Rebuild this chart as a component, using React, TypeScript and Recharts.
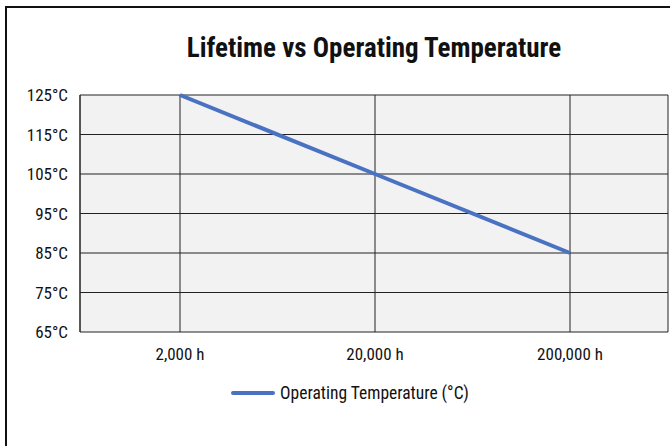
import React from 'react';
import {
  LineChart,
  Line,
  XAxis,
  YAxis,
  CartesianGrid,
  Legend,
} from 'recharts';

const hours = ['2,000 h', '20,000 h', '200,000 h'];
const tempValues = [125, 105, 85];
const tempTicks = [65, 75, 85, 95, 105, 115, 125];

const data = hours.map((h, i) => ({ hours: h, temp: tempValues[i] }));

const FONT = '"Roboto Condensed", "Liberation Sans Narrow", "DejaVu Sans Condensed", sans-serif';
const LINE_COLOR = '#4a72c2';

const LegendContent = () => (
  <div style={{ display: 'flex', alignItems: 'center', justifyContent: 'center', fontFamily: FONT, fontSize: 17.5, color: '#111' }}>
    <span style={{ display: 'inline-block', width: 44, height: 4, background: LINE_COLOR, borderRadius: 2, marginRight: 5 }} />
    <span>Operating Temperature (°C)</span>
  </div>
);

export default function App() {
  return (
    <div style={{ position: 'fixed', left: 0, top: 0, width: 670, height: 446, overflow: 'hidden', background: '#fff' }}>
      <div
        style={{
          position: 'absolute',
          left: 5,
          top: 6,
          width: 700,
          height: 470,
          border: '2px solid #111',
        }}
      />
      <div
        style={{
          position: 'absolute',
          left: 80,
          width: 588,
          top: 32,
          textAlign: 'center',
          fontFamily: FONT,
          fontWeight: 'bold',
          fontSize: 27,
          color: '#111',
        }}
      >
        Lifetime vs Operating Temperature
      </div>
      <div style={{ position: 'absolute', left: 0, top: 0 }}>
        <LineChart width={700} height={446} data={data} margin={{ top: 95, right: 32, left: 0, bottom: 84 }}>
          <CartesianGrid stroke="#222" fill="#f2f2f2" />
          <XAxis
            dataKey="hours"
            height={30}
            padding={{ left: 100, right: 98 }}
            axisLine={false}
            tickLine={false}
            tickMargin={10}
            tick={{ fill: '#111', fontSize: 17, fontFamily: FONT }}
          />
          <YAxis
            width={80}
            domain={[65, 125]}
            ticks={tempTicks}
            tickFormatter={(v) => `${v}°C`}
            axisLine={{ stroke: '#222' }}
            tickLine={false}
            tickMargin={6}
            tick={{ fill: '#111', fontSize: 17, fontFamily: FONT }}
          />
          <YAxis
            yAxisId="r"
            orientation="right"
            width={0}
            domain={[65, 125]}
            ticks={tempTicks}
            axisLine={{ stroke: '#222' }}
            tick={false}
            tickLine={false}
          />
          <Legend
            layout="horizontal"
            verticalAlign="middle"
            align="center"
            wrapperStyle={{ top: 383, left: 16 }}
            content={<LegendContent />}
          />
          <Line
            type="linear"
            dataKey="temp"
            name="Operating Temperature (°C)"
            stroke={LINE_COLOR}
            strokeWidth={4}
            dot={false}
            isAnimationActive={false}
          />
        </LineChart>
      </div>
    </div>
  );
}
